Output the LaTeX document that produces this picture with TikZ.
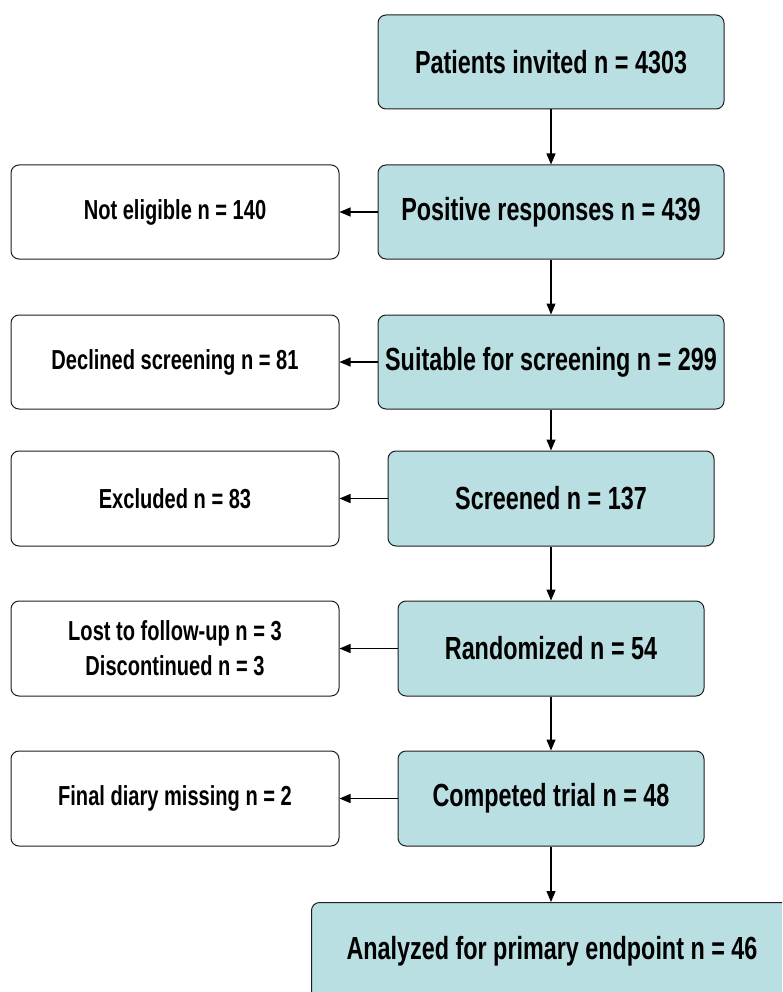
\documentclass[tikz,border=0pt]{standalone}
\usepackage{fontspec}
\setmainfont{Liberation Sans}[FakeStretch=0.73]
\usetikzlibrary{arrows.meta}
\definecolor{boxfill}{RGB}{186,223,227}
\definecolor{boxline}{RGB}{30,30,30}
\tikzset{
  mainbox/.style={draw=boxline, line width=1pt, rounded corners=8pt, fill=boxfill, font=\fontsize{32}{35}\selectfont\bfseries, align=center, inner sep=0pt},
  sidebox/.style={draw=boxline, line width=1pt, rounded corners=8pt, fill=white, font=\fontsize{27.5}{35}\selectfont\bfseries, align=center, inner sep=0pt},
  conn/.style={line width=1.2pt, -{Triangle[length=11pt, width=9pt]}},
}
\begin{document}
\begin{tikzpicture}[x=1pt, y=-1pt]
\useasboundingbox (0,0) rectangle (782,992);
\begin{scope}
\clip (0,0) rectangle (782,992);
% main boxes
\node[mainbox, minimum width=346pt, minimum height=94pt] (m1) at (551,62) {Patients invited n = 4303};
\node[mainbox, minimum width=346pt, minimum height=94pt] (m2) at (551,212) {Positive responses n = 439};
\node[mainbox, minimum width=346pt, minimum height=94pt] (m3) at (551,362) {Suitable for screening n = 299};
\node[mainbox, minimum width=326pt, minimum height=95pt] (m4) at (551,498.5) {Screened n = 137};
\node[mainbox, minimum width=306pt, minimum height=95pt] (m5) at (551,648.5) {Randomized n = 54};
\node[mainbox, minimum width=306pt, minimum height=95pt] (m6) at (551,798.5) {Competed trial n = 48};
\node[mainbox, minimum width=480pt, minimum height=98pt, anchor=north west] (m7) at (311,902) {};
\node[font=\fontsize{32}{35}\selectfont\bfseries] (t7) at (552,951) {Analyzed for primary endpoint n = 46};
% side boxes
\node[sidebox, minimum width=328pt, minimum height=94pt] (s2) at (175,212) {Not eligible n = 140};
\node[sidebox, minimum width=328pt, minimum height=94pt] (s3) at (175,362) {Declined screening n = 81};
\node[sidebox, minimum width=328pt, minimum height=95pt] (s4) at (175,498.5) {Excluded n = 83};
\node[sidebox, minimum width=328pt, minimum height=95pt] (s5) at (175,648.5) {Lost to follow-up n = 3\\Discontinued n = 3};
\node[sidebox, minimum width=328pt, minimum height=95pt] (s6) at (175,798.5) {Final diary missing n = 2};
% connectors
\draw[conn] (m1) -- (m2);
\draw[conn] (m2) -- (m3);
\draw[conn] (m3) -- (m4);
\draw[conn] (m4) -- (m5);
\draw[conn] (m5) -- (m6);
\draw[conn] (m6.south) -- (m6.south |- m7.north);
\draw[conn] (m2) -- (s2);
\draw[conn] (m3) -- (s3);
\draw[conn] (m4) -- (s4);
\draw[conn] (m5) -- (s5);
\draw[conn] (m6) -- (s6);
\end{scope}
\end{tikzpicture}
\end{document}
